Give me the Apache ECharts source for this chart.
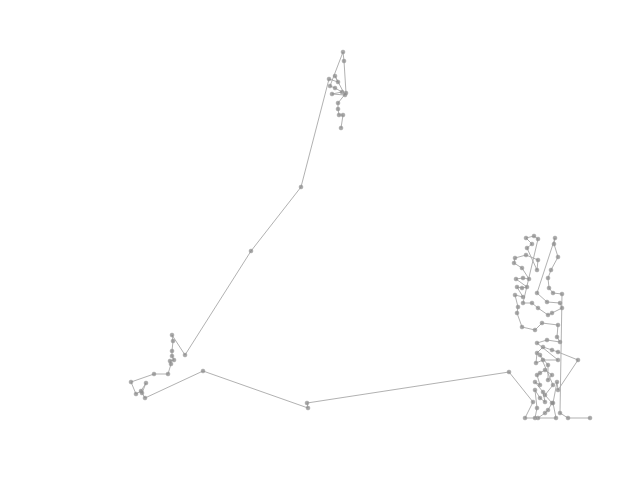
<!DOCTYPE html>
<html>
<head>
<meta charset="utf-8">
<script src="https://cdn.jsdelivr.net/npm/echarts@6/dist/echarts.min.js"></script>
<style>html,body{margin:0;padding:0;background:#fff}#c{width:640px;height:480px}</style>
</head>
<body>
<div id="c"></div>
<script>
const xValues = [241,243,239,238,238,246,244,243,230,235,242,232,245,235,238,229,
  201,151,85,72,73,72,72,74,70,71,68,54,31,36,41,46,42,45,103,208,207,409,
  433,425,435,437,435,440,445,443,435,440,437,440,445,452,448,448,440,453,445,452,448,445,438,456,453,457,458,
  478,458,452,443,437,436,443,458,437,447,460,457,458,442,435,422,417,418,415,423,417,422,427,
  416,423,429,422,414,415,426,438,437,427,432,426,434,438,
  423,432,438,448,452,462,460,447,437,
  455,454,458,451,448,449,453,462,460,468,490];
const yValues = [312,325,325,331,337,347,379,388,354,352,348,346,345,364,358,361,
  253,189,85,105,99,89,84,80,79,76,66,66,58,46,49,57,47,42,69,32,37,68,
  38,22,22,32,50,42,38,48,58,55,65,67,70,65,60,75,85,55,45,37,30,27,22,22,37,58,50,
  80,88,90,93,87,77,80,80,97,100,98,103,115,117,110,113,127,133,145,143,153,152,153,
  161,162,161,172,177,182,185,180,170,192,196,202,204,201,
  137,137,132,125,127,132,137,138,147,
  202,196,183,170,162,152,147,146,27,22,22];

const data = xValues.map((x, i) => [x, yValues[i]]);

const chart = echarts.init(document.getElementById('c'));
chart.setOption({
  animation: false,
  backgroundColor: '#fff',
  grid: { left: 100, top: 40, width: 500, height: 400 },
  xAxis: { type: 'value', min: 0, max: 500, show: false },
  yAxis: { type: 'value', min: 0, max: 400, show: false },
  series: [{
    type: 'line',
    data: data,
    symbol: 'circle',
    symbolSize: 4,
    showSymbol: true,
    lineStyle: { color: '#a8a8a8', width: 1, opacity: 0.9 },
    itemStyle: { color: '#8a8a8a', borderColor: '#9a9a9a', borderWidth: 0.5, opacity: 0.75 }
  }]
});
</script>
</body>
</html>
